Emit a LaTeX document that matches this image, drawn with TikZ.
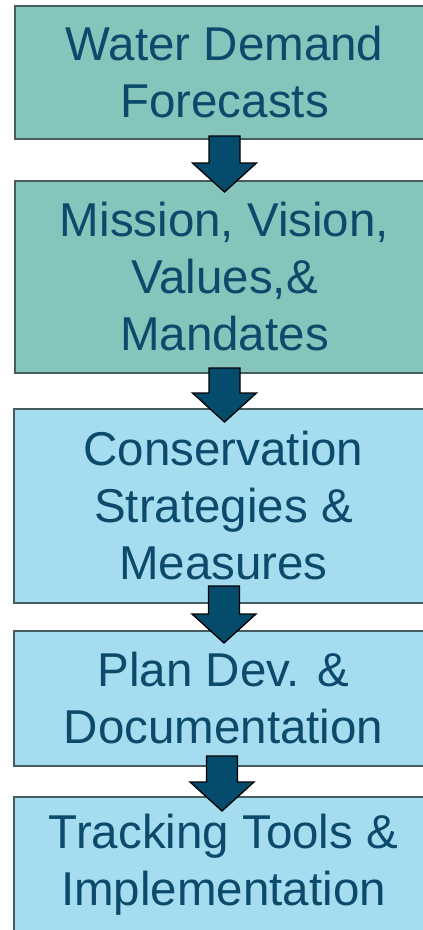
\documentclass[tikz,border=0pt]{standalone}
\usepackage{fontspec}
\setmainfont{Liberation Sans}
\usetikzlibrary{calc}

\definecolor{stepgreen}{HTML}{86C5BB}
\definecolor{stepblue}{HTML}{A6DCEF}
\definecolor{steptext}{HTML}{0B4A6B}
\definecolor{stepedge}{HTML}{475C5E}
\definecolor{arrowfill}{HTML}{054B6C}

\tikzset{
  stepbox/.style={draw=stepedge, line width=2pt, text=steptext, align=center,
    minimum width=419pt, inner sep=0pt,
    font=\fontsize{47.5}{57}\selectfont},
  greenbox/.style={stepbox, fill=stepgreen},
  bluebox/.style={stepbox, fill=stepblue},
  arrowblock/.style={fill=arrowfill, draw=black, line width=1.3pt, line join=miter}
}

% block arrow from a start point down to a tip
\newcommand{\flowarrow}[2]{%
  \draw[arrowblock] let \p1=(#1), \p2=(#2) in
    (\x1-15.5pt,\y1) -- (\x1+15.5pt,\y1) -- (\x1+15.5pt,\y2+29pt)
    -- (\x1+32pt,\y2+29pt) -- (\x1,\y2) -- (\x1-32pt,\y2+29pt)
    -- (\x1-15.5pt,\y2+29pt) -- cycle;}

\begin{document}
\begin{tikzpicture}[x=1pt, y=1pt]
    \useasboundingbox (0,0) rectangle (423,-930);
    \clip (0,0) rectangle (423,-930);

    % Steps
    \node[greenbox, minimum height=133pt] (forecast) at (224.5,-72.5)
        {Water Demand\\Forecasts};
    \node[greenbox, minimum height=192pt] (mission) at (224.5,-277)
        {Mission, Vision,\\Values,\&\\Mandates};
    \node[bluebox, minimum height=194pt] (strategy) at (223.5,-506)
        {Conservation\\Strategies \&\\Measures};
    \node[bluebox, minimum height=135pt] (plandev) at (223.5,-698.5)
        {Plan Dev. \&\\Documentation};
    \node[bluebox, minimum height=135pt] (tracking) at (223.5,-864.5)
        {Tracking Tools \&\\Implementation};

    % Arrows
    \coordinate (a1) at ([yshift=4pt]forecast.south);
    \coordinate (t1) at ([yshift=-12pt]mission.north);
    \coordinate (a2) at ([yshift=6pt]mission.south);
    \coordinate (t2) at ([yshift=-14pt]strategy.north);
    \coordinate (a3) at ([xshift=0.5pt,yshift=18pt]strategy.south);
    \coordinate (t3) at ([yshift=-13pt]plandev.north);
    \coordinate (a4) at ([xshift=-1.5pt,yshift=11pt]plandev.south);
    \coordinate (t4) at ([yshift=-15pt]tracking.north);

    \flowarrow{a1}{t1}
    \flowarrow{a2}{t2}
    \flowarrow{a3}{t3}
    \flowarrow{a4}{t4}

\end{tikzpicture}
\end{document}
